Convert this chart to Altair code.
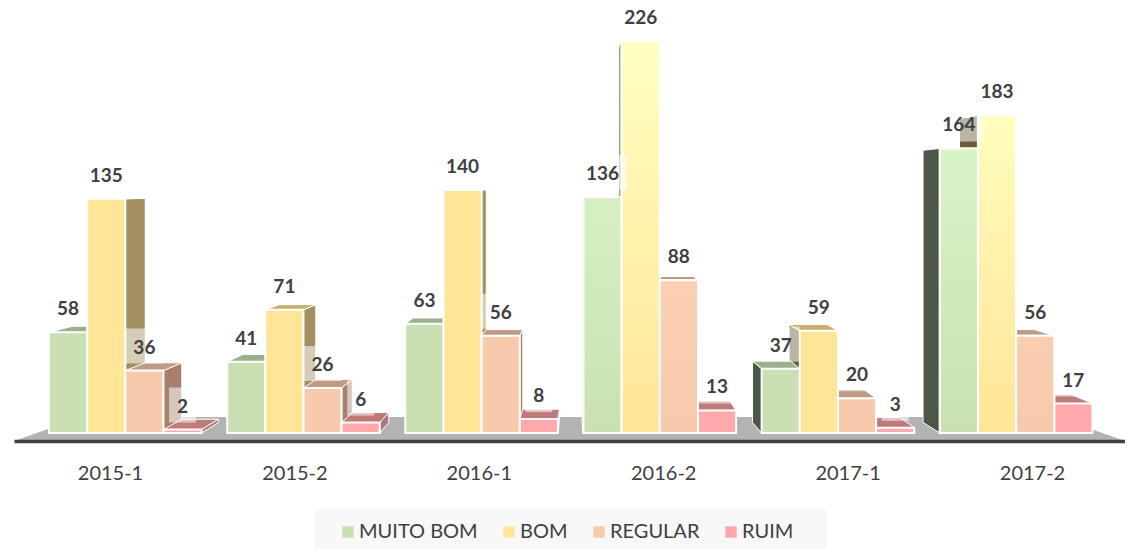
import altair as alt
import pandas as pd

PERIODS = ["2015-1", "2015-2", "2016-1", "2016-2", "2017-1", "2017-2"]
SERIES = ["MUITO BOM", "BOM", "REGULAR", "RUIM"]
MUITO_BOM = [58, 41, 63, 136, 37, 164]
BOM = [135, 71, 140, 226, 59, 183]
REGULAR = [36, 26, 56, 88, 20, 56]
RUIM = [2, 6, 8, 13, 3, 17]
VALUES = [MUITO_BOM, BOM, REGULAR, RUIM]

FRONT = ["#c8e0b4", "#ffe598", "#f8caac", "#ffa9ad"]
BRIGHT = ["#dcf8cc", "#ffffc0", "#ffd6bc", "#ffb0b4"]
TOP = ["#9bb08b", "#c7ae6c", "#c09a82", "#c07a7a"]
RIGHT = ["#8a9a7c", "#a39060", "#a6806c", "#aa7878"]
LEFT = ["#4d5746", "#6b5c35", "#7a6050", "#7a5050"]

# geometry in data units (x: bar widths, y: chart value)
PX_X = 38.15
PX_Y = 1.735
GROUP_STEP = 4.67
X_MIN, X_MAX = -35 / PX_X, 1076 / PX_X
Y_MIN, Y_MAX = -8 / PX_Y, 425 / PX_Y
VP_X, VP_LEFT, VP_Y, SHRINK = 14.18, 13.13, 140.0, 0.957
TICK_START, TICK_STEP = 61 / PX_X, 184.4 / PX_X
LABEL_RISE = 23 / PX_Y


def mix(a, b, t):
    ca = [int(a[i:i + 2], 16) for i in (1, 3, 5)]
    cb = [int(b[i:i + 2], 16) for i in (1, 3, 5)]
    return "#" + "".join(f"{round(p + (q - p) * t):02x}" for p, q in zip(ca, cb))


def back(x, v, vp=VP_X):
    return vp + (x - vp) * SHRINK, VP_Y + (v - VP_Y) * SHRINK


def polygon_rows(pts, face, fill):
    """Turn a convex polygon into area rows (x, y, y2)."""
    rows = []
    n = len(pts)
    for xq in sorted({round(p[0], 5) for p in pts}):
        ys = []
        for i in range(n):
            (xa, ya), (xb, yb) = pts[i], pts[(i + 1) % n]
            if min(xa, xb) - 1e-4 <= xq <= max(xa, xb) + 1e-4:
                if abs(xa - xb) < 1e-4:
                    ys += [ya, yb]
                else:
                    ys.append(ya + (yb - ya) * (xq - xa) / (xb - xa))
        rows.append(dict(x=xq, y=min(ys), y2=max(ys), face=face, fill=fill))
    return rows


bars, faces = [], []
for g, period in enumerate(PERIODS):
    for s, name in enumerate(SERIES):
        v = VALUES[s][g]
        x0 = g * GROUP_STEP + s
        x1 = x0 + 1
        bars.append(dict(period=period, series=name, value=v, x=x0, x2=x1, base=0,
                         s=s, g=g, tx=x0 + 0.5, ty=v + LABEL_RISE, label=str(v)))
        bv = back(x0, v)[1]
        b0 = back(x0, 0)[1]
        bx0 = back(x0, 0, VP_LEFT)[0] if x0 > VP_LEFT else back(x0, 0)[0]
        bx1 = back(x1, 0)[0]
        lst = []
        if bx1 > x1:
            lst.append(([(x1, v), (bx1, bv), (bx1, b0), (x1, 0)], RIGHT[s]))
        if bx0 < x0:
            thin = x0 - bx0 < 0.12
            lst.append(([(x0, v), (bx0, bv), (bx0, b0), (x0, 0)],
                        mix(LEFT[s], "#ffffff", 0.35) if thin else LEFT[s]))
        if bv > v:
            lst.append(([(x0, v), (x1, v), (bx1, bv), (bx0, bv)], TOP[s]))
        dist = abs(x0 + 0.5 - VP_X)
        for k, (pts, col) in enumerate(lst):
            faces.append((-dist, k, pts, col))

faces.sort(key=lambda f: (f[0], f[1]))
face_rows = []
for i, (_, _, pts, col) in enumerate(faces):
    face_rows += polygon_rows(pts, f"f{i:03d}", col)

df = pd.DataFrame(bars)
df["bw"] = (df["label"].str.len() * 11 + 16) / PX_X / 2
df["bx"] = df["tx"] - df["bw"]
df["bx2"] = df["tx"] + df["bw"]
df["by"] = df["ty"] - 16 / PX_Y
df["by2"] = df["ty"] + 19 / PX_Y

FLOOR_TOP = 9.2
floor = pd.DataFrame({
    "x": [X_MIN, X_MIN + 68 / PX_X, X_MAX - 68 / PX_X, X_MAX],
    "y": [Y_MIN, FLOOR_TOP, FLOOR_TOP, Y_MIN],
    "y2": [Y_MIN, Y_MIN, Y_MIN, Y_MIN],
})

xs = alt.Scale(domain=[X_MIN, X_MAX], nice=False, zero=False)
ys = alt.Scale(domain=[Y_MIN, Y_MAX], nice=False, zero=False)
names = "[" + ",".join(f"'{p}'" for p in PERIODS) + "]"
xaxis = alt.Axis(
    values=[TICK_START + i * TICK_STEP for i in range(len(PERIODS))],
    labelExpr=f"{names}[round((datum.value-({TICK_START}))/({TICK_STEP}))]",
    title=None, grid=False, ticks=False, domainColor="#404040", domainWidth=3.5,
    labelFont="Lato", labelFontSize=20, labelColor="#404040", labelPadding=22,
    zindex=1,
)


def X(field):
    return alt.X(f"{field}:Q", scale=xs, axis=xaxis)


def Y(field):
    return alt.Y(f"{field}:Q", scale=ys, axis=None)


legend_box = alt.Chart(pd.DataFrame({"k": [0]})).mark_rect(
    color="#f8f8f8", clip=False
).encode(
    x=alt.value(301), x2=alt.value(813), y=alt.value(501), y2=alt.value(541)
)

floor_layer = alt.Chart(floor).mark_area(color="#b3b3b3").encode(
    x=X("x"), y=Y("y"), y2=alt.Y2("y2:Q"))

face_layer = alt.Chart(pd.DataFrame(face_rows)).mark_area(
    stroke="white", strokeWidth=1, interpolate="linear"
).encode(
    x=X("x"), y=Y("y"), y2=alt.Y2("y2:Q"),
    detail="face:N",
    fill=alt.Fill("fill:N", scale=None, legend=None),
)

front_layer = alt.Chart(df).mark_rect(stroke="white", strokeWidth=2).encode(
    x=X("x"), x2=alt.X2("x2:Q"),
    y=Y("value"), y2=alt.Y2("base:Q"),
    color=alt.Color("series:N", scale=alt.Scale(domain=SERIES, range=FRONT), sort=SERIES,
                    legend=alt.Legend(
                        title=None, orient="none", legendX=324, legendY=514,
                        direction="horizontal", columns=4, symbolType="square",
                        symbolSize=130, symbolStrokeWidth=0, labelFont="Lato",
                        labelFontSize=20, labelColor="#404040",
                        padding=0, columnPadding=21, labelOffset=1,
                    )),
)

grad_layers = []
for _, r in df[(df.g >= 3) & (df.g != 4) & (df.value >= 50)].iterrows():
    top = mix(FRONT[r.s], BRIGHT[r.s], min(1.0, r.value / 200))
    grad = alt.Gradient(gradient="linear", x1=0, x2=0, y1=1, y2=0, stops=[
        alt.GradientStop(color=FRONT[r.s], offset=0),
        alt.GradientStop(color=top, offset=1),
    ])
    grad_layers.append(
        alt.Chart(df[(df.g == r.g) & (df.s == r.s)]).mark_rect(
            fill=grad, stroke="white", strokeWidth=2
        ).encode(
            x=X("x"), x2=alt.X2("x2:Q"),
            y=Y("value"), y2=alt.Y2("base:Q"),
        )
    )

box_layer = alt.Chart(df).mark_rect(fill="white", opacity=0.55).encode(
    x=X("bx"), x2=alt.X2("bx2:Q"),
    y=Y("by"), y2=alt.Y2("by2:Q"),
)

text_layer = alt.Chart(df).mark_text(
    font="Lato", fontWeight="bold", fontSize=19, color="#404040", baseline="middle", align="center"
).encode(
    x=X("tx"),
    y=Y("ty"),
    text="label:N",
)

chart = alt.layer(
    legend_box, floor_layer, face_layer, front_layer, *grad_layers, box_layer, text_layer
).properties(
    width=1111, height=433,
    padding={"left": 6, "top": 0, "right": 0, "bottom": 108},
    autosize=alt.AutoSizeParams(type="none"),
    background="white",
).configure_view(stroke=None)

chart.save("out.html", embed_options={"renderer": "svg", "actions": False})
